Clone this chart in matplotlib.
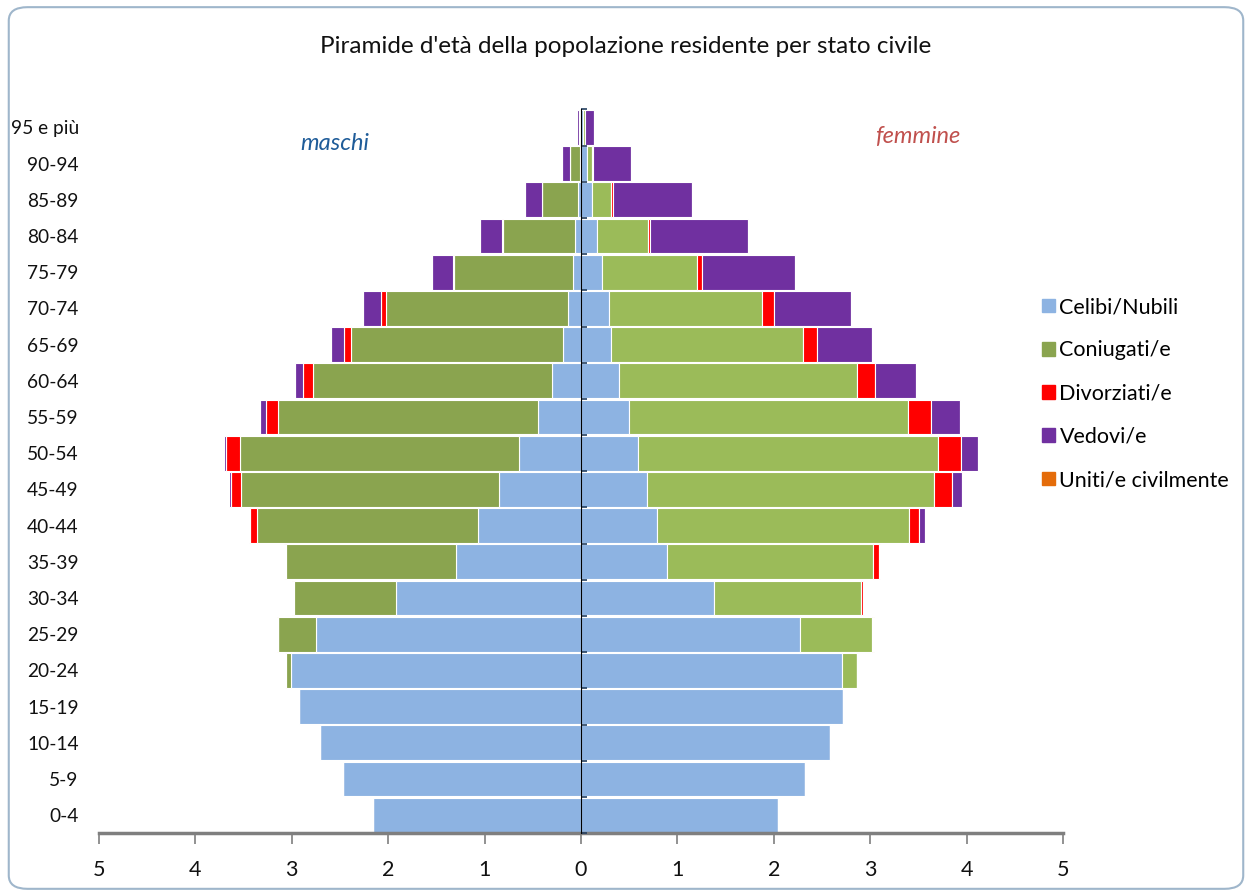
import numpy as np
import matplotlib
matplotlib.use("Agg")
import matplotlib.pyplot as plt
from matplotlib.patches import FancyBboxPatch

plt.rcParams['font.family'] = ['Lato', 'DejaVu Sans']

eta = ["0-4", "5-9", "10-14", "15-19", "20-24", "25-29", "30-34", "35-39",
       "40-44", "45-49", "50-54", "55-59", "60-64", "65-69", "70-74",
       "75-79", "80-84", "85-89", "90-94", "95 e più"]

# valori percentuali, maschi
m_celibi = [2.16, 2.47, 2.71, 2.92, 3.01, 2.75, 1.92, 1.30, 1.07, 0.85,
            0.64, 0.45, 0.30, 0.19, 0.13, 0.08, 0.06, 0.03, 0.01, 0.005]
m_coniugati = [0, 0, 0, 0, 0.05, 0.39, 1.06, 1.76, 2.29, 2.68,
               2.90, 2.69, 2.48, 2.20, 1.89, 1.24, 0.75, 0.37, 0.10, 0.01]
m_divorziati = [0, 0, 0, 0, 0.01, 0.005, 0.01, 0.01, 0.07, 0.10,
                0.14, 0.13, 0.10, 0.07, 0.05, 0.01, 0.005, 0.005, 0, 0]
m_vedovi = [0, 0, 0, 0, 0, 0, 0, 0.005, 0.01, 0.02,
            0.02, 0.06, 0.09, 0.13, 0.19, 0.21, 0.23, 0.18, 0.09, 0.03]
m_uniti = [0, 0, 0, 0, 0.003, 0.003, 0.003, 0.003, 0.003, 0.003,
           0.003, 0, 0, 0, 0, 0, 0, 0, 0, 0]

# femmine
f_nubili = [2.04, 2.32, 2.58, 2.72, 2.71, 2.27, 1.38, 0.89, 0.79, 0.69,
            0.59, 0.50, 0.39, 0.31, 0.29, 0.22, 0.17, 0.12, 0.06, 0.02]
f_coniugate = [0, 0, 0, 0, 0.15, 0.75, 1.53, 2.14, 2.61, 2.97,
               3.11, 2.89, 2.47, 1.99, 1.59, 0.98, 0.53, 0.19, 0.06, 0.02]
f_divorziate = [0, 0, 0, 0, 0.003, 0.01, 0.02, 0.06, 0.11, 0.19,
                0.24, 0.24, 0.19, 0.15, 0.12, 0.06, 0.02, 0.02, 0.005, 0]
f_vedove = [0, 0, 0, 0, 0, 0, 0.005, 0.01, 0.06, 0.10,
            0.18, 0.30, 0.43, 0.57, 0.80, 0.96, 1.01, 0.82, 0.39, 0.10]
f_unite = [0, 0, 0, 0, 0.005, 0.01, 0.005, 0.003, 0.003, 0.003,
           0.003, 0, 0, 0, 0, 0, 0, 0, 0, 0]

stati = ["Celibi/Nubili", "Coniugati/e", "Divorziati/e", "Vedovi/e", "Uniti/e civilmente"]
col_m = ["#8DB3E2", "#8AA44F", "#FF0000", "#7030A0", "#E46C0A"]
col_f = ["#8DB3E2", "#9BBB59", "#FF0000", "#7030A0", "#E46C0A"]

fig = plt.figure(figsize=(12.52, 8.96), dpi=100)
fig.patches.append(FancyBboxPatch((0.007, 0.008), 0.986, 0.984,
                                  boxstyle="round,pad=0,rounding_size=0.015",
                                  transform=fig.transFigure, facecolor="white",
                                  edgecolor="#9FB6CB", linewidth=1.5, zorder=-1))
ax = fig.add_axes([0.079, 0.070, 0.770, 0.808])
ax.patch.set_alpha(0)

y = np.arange(len(eta))
maschi = [m_celibi, m_coniugati, m_divorziati, m_vedovi, m_uniti]
femmine = [f_nubili, f_coniugate, f_divorziate, f_vedove, f_unite]

left = np.zeros(len(eta))
for vals, c in zip(maschi, col_m):
    v = np.array(vals)
    ax.barh(y, -v, left=-left, height=0.96, color=c, edgecolor="white", linewidth=0.8)
    left += v

left = np.zeros(len(eta))
for vals, c in zip(femmine, col_f):
    v = np.array(vals)
    ax.barh(y, v, left=left, height=0.96, color=c, edgecolor="white", linewidth=0.8)
    left += v

ax.set_xlim(-5, 5)
ax.set_ylim(-0.5, len(eta) - 0.5)
ticks = np.arange(-5, 6)
ax.set_xticks(ticks, [str(abs(t)) for t in ticks])
ax.set_yticks(y, eta)
ax.tick_params(axis="y", left=False, pad=11, labelsize=13.8, labelcolor="#111111")
ax.tick_params(axis="x", direction="out", length=8, width=1.2, color="#7F7F7F",
               labelsize=15.5, pad=11, labelcolor="#111111")
for s in ["left", "right", "top"]:
    ax.spines[s].set_visible(False)
ax.spines["bottom"].set_color("#7F7F7F")
ax.spines["bottom"].set_linewidth(2.5)

# asse centrale con le tacche tra le classi
sec = ax.secondary_yaxis(0.5)
sec.set_yticks(np.arange(-0.5, len(eta), 1.0), [])
sec.tick_params(length=4, width=1.2, color="#243F60", labelleft=False, labelright=False)
sec.spines["left"].set_color("#2F62A8")
sec.spines["left"].set_linewidth(1.3)
sec.set_zorder(5)

ax.text(-2.55, 18.55, "maschi", style="italic", color="#1F5C99", fontsize=17,
        ha="center", va="center")
ax.text(3.49, 18.75, "femmine", style="italic", color="#C0504D", fontsize=17,
        ha="center", va="center")

fig.text(0.5, 0.948, "Piramide d'età della popolazione residente per stato civile",
         ha="center", va="center", fontsize=17.5, color="#111111")

handles = [plt.Rectangle((0, 0), 1, 1, color=c) for c in col_m]
fig.legend(handles, stati, loc="upper left", bbox_to_anchor=(0.817, 0.69),
           frameon=False, fontsize=15.5, handlelength=0.6, handleheight=0.6,
           handletextpad=0.2, labelspacing=1.08)

fig.savefig("out.png", dpi=100)
